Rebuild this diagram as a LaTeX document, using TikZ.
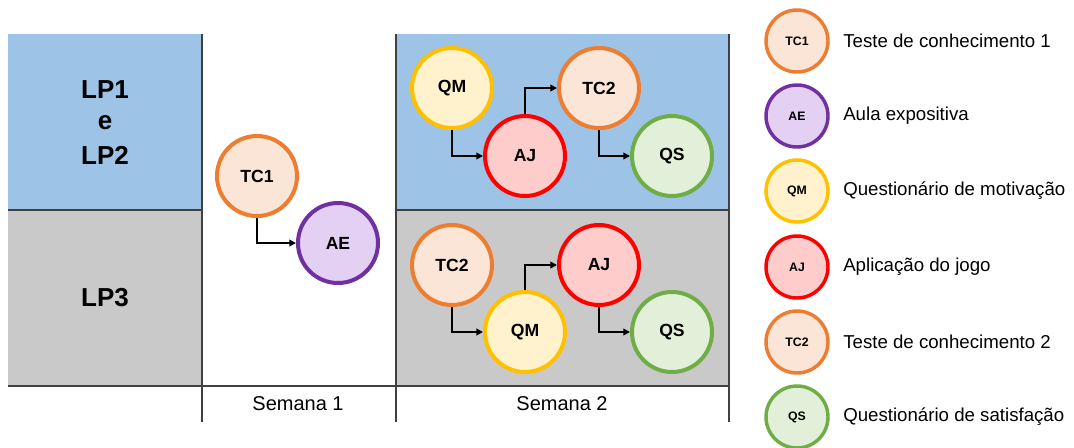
\documentclass[tikz,border=0pt]{standalone}
\usepackage{fontspec}
\setmainfont{Liberation Sans}
\usetikzlibrary{arrows.meta}
\definecolor{bluebg}{HTML}{9DC3E6}
\definecolor{graybg}{HTML}{C9C9C9}
\definecolor{orS}{HTML}{ED7D31}\definecolor{orF}{HTML}{FBE5D6}
\definecolor{puS}{HTML}{7030A0}\definecolor{puF}{HTML}{E3D0F2}
\definecolor{yeS}{HTML}{FFC000}\definecolor{yeF}{HTML}{FFF2CC}
\definecolor{reS}{HTML}{FF0000}\definecolor{reF}{HTML}{FFCCCC}
\definecolor{grS}{HTML}{70AD47}\definecolor{grF}{HTML}{E2F0D9}
\tikzset{
  act/.style={circle, inner sep=0pt, minimum size=60pt, line width=3pt, font=\fontsize{13.2}{15}\selectfont\bfseries},
  leg/.style={circle, inner sep=0pt, minimum size=46.5pt, line width=2.6pt, font=\fontsize{9.2}{11}\selectfont\bfseries},
  tcN/.style={draw=orS, fill=orF},
  aeN/.style={draw=puS, fill=puF},
  qmN/.style={draw=yeS, fill=yeF},
  ajN/.style={draw=reS, fill=reF},
  qsN/.style={draw=grS, fill=grF},
  grid/.style={draw=black!75, line width=1pt},
  arr/.style={-{Triangle[length=5pt,width=5pt]}, line width=1.5pt},
  legtext/.style={anchor=west, inner sep=0pt, font=\fontsize{14}{16}\selectfont},
  lp/.style={font=\fontsize{19.5}{22}\selectfont\bfseries},
  week/.style={font=\fontsize{15}{17}\selectfont}
}
\begin{document}
\begin{tikzpicture}[x=0.75pt,y=-0.75pt]
\useasboundingbox (0,0) rectangle (1074,447);
% backgrounds
\fill[bluebg] (8,34) rectangle (202,210);
\fill[graybg] (8,210) rectangle (202,386);
\fill[bluebg] (396,34) rectangle (729,210);
\fill[graybg] (396,210) rectangle (729,386);
% grid lines
\draw[grid] (202,34) -- (202,422);
\draw[grid] (396,34) -- (396,422);
\draw[grid] (729,34) -- (729,422);
\draw[grid] (8,210) -- (202,210);
\draw[grid] (396,210) -- (729,210);
\draw[grid] (8,386) -- (729,386);
% row labels
\node[lp] (lp1) at (105,90) {LP1};
\node[lp] (e) at (105,123) {e};
\node[lp] (lp2) at (105,155) {LP2};
\node[lp] (lp3) at (105,298) {LP3};
% week labels
\node[week] (s1) at (298,404) {Semana 1};
\node[week] (s2) at (562,404) {Semana 2};
% week 1
\node[act,tcN] (tc1) at (257,176) {TC1};
\node[act,aeN] (ae) at (338,243) {AE};
\draw[arr] (tc1.south) |- (ae.west);
% week 2, LP1 e LP2
\node[act,qmN] (qmA) at (452,88) {QM};
\node[act,ajN] (ajA) at (525,156) {AJ};
\node[act,tcN] (tcA) at (599,88) {TC2};
\node[act,qsN] (qsA) at (672,156) {QS};
\draw[arr] (qmA.south) |- (ajA.west);
\draw[arr] (ajA.north) |- (tcA.west);
\draw[arr] (tcA.south) |- (qsA.west);
% week 2, LP3
\node[act,tcN] (tcB) at (452,265) {TC2};
\node[act,qmN] (qmB) at (525,332) {QM};
\node[act,ajN] (ajB) at (599,265) {AJ};
\node[act,qsN] (qsB) at (672,332) {QS};
\draw[arr] (tcB.south) |- (qmB.west);
\draw[arr] (qmB.north) |- (ajB.west);
\draw[arr] (ajB.south) |- (qsB.west);
% legend
\node[leg,tcN] (l1) at (797,41) {TC1};
\node[leg,aeN] (l2) at (797,116) {AE};
\node[leg,qmN] (l3) at (797,191) {QM};
\node[leg,ajN] (l4) at (797,267) {AJ};
\node[leg,tcN] (l5) at (797,342) {TC2};
\node[leg,qsN] (l6) at (797,417) {QS};
\node[legtext] (t1) at (843,41) {Teste de conhecimento 1};
\node[legtext] (t2) at (843,116) {Aula expositiva};
\node[legtext] (t3) at (843,191) {Questionário de motivação};
\node[legtext] (t4) at (843,267) {Aplicação do jogo};
\node[legtext] (t5) at (843,342) {Teste de conhecimento 2};
\node[legtext] (t6) at (843,417) {Questionário de satisfação};
\end{tikzpicture}
\end{document}
